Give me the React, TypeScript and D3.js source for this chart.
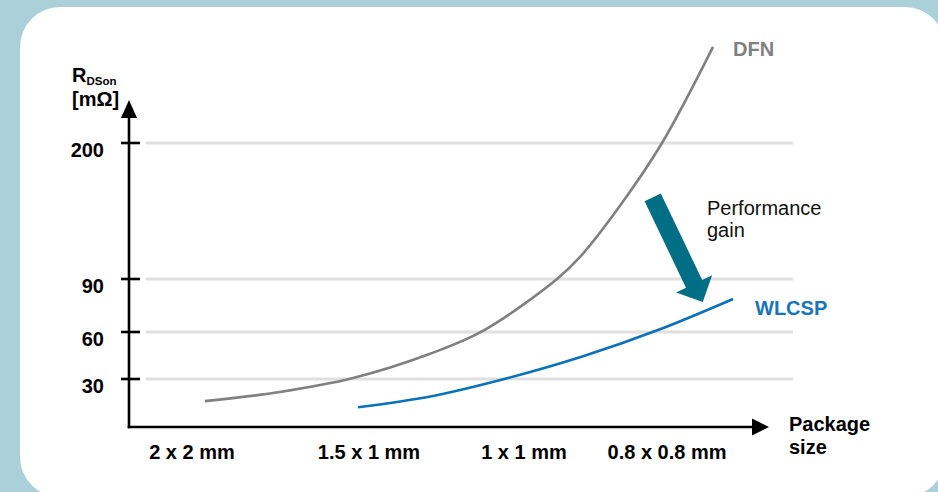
import React from "react";
import * as d3 from "d3";

// ---- data ----
const categories = ["2 x 2 mm", "1.5 x 1 mm", "1 x 1 mm", "0.8 x 0.8 mm"];
const yTickValues = [30, 60, 90, 200];
// position along the package-size axis (0 = first category, 3 = last)
const dfnPos = [0.073, 0.497, 0.91, 1.394, 1.735, 2.231, 2.392, 2.671, 2.965, 3.322];
const dfnVal = [15.9, 21.7, 30.6, 46.1, 60.6, 90, 107.8, 149.2, 200, 277.8];
const wlcspPos = [0.938, 1.413, 1.897, 2.413, 2.937, 3.462];
const wlcspVal = [12.0, 19.2, 30.6, 44.5, 61.1, 78.7];
// performance-gain arrow: from / to (pos, value)
const gainArrowPos = [2.9, 3.25];
const gainArrowVal = [156, 77];

const W = 938;
const H = 492;
const FONT = "'Liberation Sans', Arial, Helvetica, sans-serif";
const FS = 20;

export default function App() {
  const x = d3.scaleLinear().domain([0, 1, 2, 3]).range([192, 369, 524, 667]);
  const y = d3.scaleLinear().domain(yTickValues).range([379, 332, 279, 143]);

  const axisX = 129;
  const axisY = 427;

  const line = d3
    .line<[number, number]>()
    .x((d) => x(d[0]))
    .y((d) => y(d[1]))
    .curve(d3.curveCatmullRom.alpha(0.5));

  const dfnPath = line(dfnPos.map((p, i) => [p, dfnVal[i]]))!;
  const wlPath = line(wlcspPos.map((p, i) => [p, wlcspVal[i]]))!;

  // gain arrow polygon
  const sx = x(gainArrowPos[0]);
  const sy = y(gainArrowVal[0]);
  const ex = x(gainArrowPos[1]);
  const ey = y(gainArrowVal[1]);
  const len = Math.hypot(ex - sx, ey - sy);
  const ux = (ex - sx) / len;
  const uy = (ey - sy) / len;
  const px = -uy;
  const py = ux;
  const shaftHalf = 9;
  const headHalf = 20;
  const headLen = 20;
  const bx = ex - ux * headLen;
  const by = ey - uy * headLen;
  const arrowPts: [number, number][] = [
    [sx + px * shaftHalf, sy + py * shaftHalf],
    [bx + px * shaftHalf, by + py * shaftHalf],
    [bx + px * headHalf, by + py * headHalf],
    [ex, ey],
    [bx - px * headHalf, by - py * headHalf],
    [bx - px * shaftHalf, by - py * shaftHalf],
    [sx - px * shaftHalf, sy - py * shaftHalf],
  ];

  return (
    <svg
      width={W}
      height={H}
      style={{ position: "absolute", left: 0, top: 0, display: "block" }}
      fontFamily={FONT}
    >
      <rect x={0} y={0} width={W} height={H} fill="#abd0d9" />
      <rect x={20} y={7} width={925} height={490} rx={40} ry={40} fill="#ffffff" />

      {/* gridlines */}
      {yTickValues.map((v) => (
        <line key={"g" + v} x1={146} x2={793} y1={y(v)} y2={y(v)} stroke="#e0e0e0" strokeWidth={3} />
      ))}

      {/* curves */}
      <path d={dfnPath} fill="none" stroke="#808080" strokeWidth={2.6} />
      <path d={wlPath} fill="none" stroke="#0a72ba" strokeWidth={2.6} />

      {/* gain arrow */}
      <polygon points={arrowPts.map((p) => p.join(",")).join(" ")} fill="#006f86" />

      {/* axes */}
      <line x1={axisX} x2={axisX} y1={axisY + 1.3} y2={116} stroke="#000" strokeWidth={2.6} />
      <polygon points={`${axisX - 8},${118} ${axisX + 8},${118} ${axisX},${100}`} fill="#000" />
      <line x1={axisX - 1.3} x2={753} y1={axisY} y2={axisY} stroke="#000" strokeWidth={2.6} />
      <polygon points={`${752},${axisY - 8.5} ${752},${axisY + 8.5} ${769},${axisY}`} fill="#000" />

      {/* y ticks */}
      {yTickValues.map((v) => (
        <g key={"t" + v}>
          <line x1={121} x2={140} y1={y(v)} y2={y(v)} stroke="#000" strokeWidth={2.6} />
          <text x={104} y={y(v) + 14} textAnchor="end" fontSize={FS} fontWeight="bold" fill="#000">
            {v}
          </text>
        </g>
      ))}

      {/* x labels */}
      {categories.map((c, i) => (
        <text key={c} x={x(i)} y={459} textAnchor="middle" fontSize={FS} fontWeight="bold" fill="#000">
          {c}
        </text>
      ))}

      {/* axis titles */}
      <text x={72} y={81.5} fontSize={FS} fontWeight="bold" fill="#000">
        R<tspan fontSize={11.5} dy={3.5}>DSon</tspan>
      </text>
      <text x={72} y={106} fontSize={FS} fontWeight="bold" fill="#000">
        [mΩ]
      </text>
      <text x={789} y={431} fontSize={FS} fontWeight="bold" fill="#000">
        Package
      </text>
      <text x={789} y={454} fontSize={FS} fontWeight="bold" fill="#000">
        size
      </text>

      {/* series labels */}
      <text x={733} y={56} fontSize={FS} fontWeight="bold" fill="#808080">
        DFN
      </text>
      <text x={755} y={315} fontSize={FS} fontWeight="bold" fill="#1874bb">
        WLCSP
      </text>
      <text x={707} y={215} fontSize={FS} fill="#111">
        Performance
      </text>
      <text x={707} y={237} fontSize={FS} fill="#111">
        gain
      </text>
    </svg>
  );
}
